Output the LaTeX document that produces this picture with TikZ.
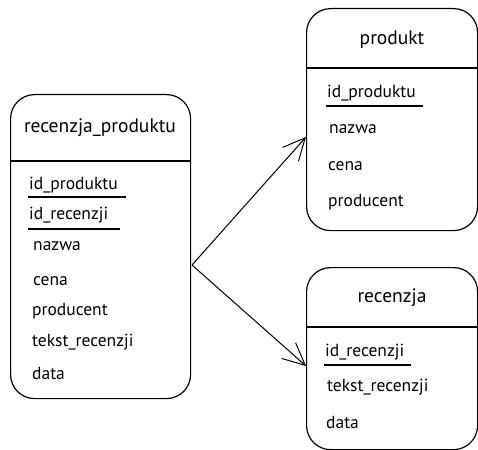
\documentclass[tikz,border=0pt]{standalone}
\usepackage{fontspec}
\setmainfont{PT Sans}
\usetikzlibrary{arrows.meta}
\begin{document}
\begin{tikzpicture}[x=1pt,y=-1pt,
  box/.style={draw, line width=1.2pt, rounded corners=24pt, anchor=north west, inner sep=0pt},
  sep/.style={line width=1.2pt},
  ttl/.style={font=\fontsize{19.5}{19.5}\selectfont, anchor=center, inner sep=0pt},
  row/.style={font=\fontsize{17.5}{17.5}\selectfont, anchor=west, inner sep=0pt},
  ul/.style={line width=1.2pt},
  rel/.style={line width=1pt, -{Straight Barb[length=22pt,width=21pt,line width=1pt]}}]
\useasboundingbox (0,0) rectangle (478,449);
% left table
\node[box, minimum width=180pt, minimum height=304pt] (rp) at (10,94) {};
\node[ttl] (rpt) at (100,128) {recenzja\_produktu};
\draw[sep] (10,161) -- (190,161);
\node[row] (rp1) at (29,185) {id\_produktu};
\node[row] (rp2) at (29,215) {id\_recenzji};
\node[row] (rp3) at (33,246) {nazwa};
\node[row] (rp4) at (33,281) {cena};
\node[row] (rp5) at (32,311) {producent};
\node[row] (rp6) at (32,342) {tekst\_recenzji};
\node[row] (rp7) at (32,373) {data};
\draw[ul] (28,197) -- (126,197);
\draw[ul] (28,229) -- (120,229);
% produkt
\node[box, minimum width=171pt, minimum height=222pt] (pr) at (306,8) {};
\node[ttl] (prt) at (392,40) {produkt};
\draw[sep] (306,68) -- (477,68);
\node[row] (pr1) at (327,93) {id\_produktu};
\node[row] (pr2) at (329,129) {nazwa};
\node[row] (pr3) at (328,166) {cena};
\node[row] (pr4) at (328,202) {producent};
\draw[ul] (326,106) -- (423,106);
% recenzja
\node[box, minimum width=171pt, minimum height=182pt] (re) at (306,267) {};
\node[ttl] (ret) at (392,298) {recenzja};
\draw[sep] (306,327) -- (477,327);
\node[row] (re1) at (325,352) {id\_recenzji};
\node[row] (re2) at (327,387) {tekst\_recenzji};
\node[row] (re3) at (326,422) {data};
\draw[ul] (324,365) -- (411,365);
% relations
\coordinate (fork) at (192,265);
\draw[rel] (fork) -- (pr.west |- 0,137);
\draw[rel] (fork) -- (re.west |- 0,366);
\end{tikzpicture}
\end{document}
